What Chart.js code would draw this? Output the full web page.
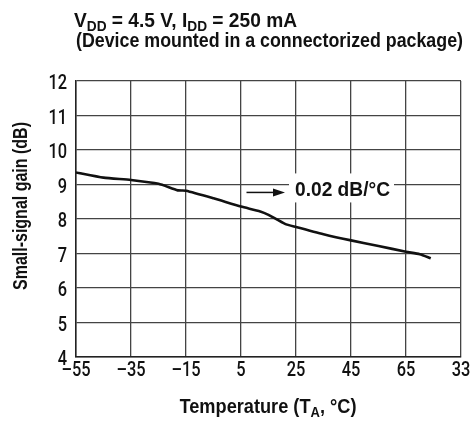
<!DOCTYPE html>
<html>
<head>
<meta charset="utf-8">
<script src="https://cdn.jsdelivr.net/npm/chart.js@4.4.0/dist/chart.umd.min.js"></script>
<style>
  body { margin: 0; background: #fff; }
  #wrap { position: relative; width: 472px; height: 423px; overflow: hidden; }
  .txt {
    position: absolute; white-space: nowrap;
    font-family: 'Liberation Sans', Arial, sans-serif;
    font-weight: bold; font-size: 21px; line-height: 20px; color: #111;
    transform-origin: 0 0;
  }
  .txt sub { font-size: 15px; vertical-align: -4px; line-height: 0; }
  #linha1 { left: 74px; top: 10px; }
  #linha2 { left: 76px; top: 30px; }
  #tituloX { left: 268px; top: 396px; }
  #tituloY { left: 20px; top: 206px; }
</style>
</head>
<body>
<div id="wrap">
  <canvas id="grafico" width="472" height="423"></canvas>
  <div id="linha1" class="txt">V<sub>DD</sub> = 4.5 V, I<sub>DD</sub> = 250 mA</div>
  <div id="linha2" class="txt">(Device mounted in a connectorized package)</div>
  <div id="tituloX" class="txt">Temperature (T<sub>A</sub>, &deg;C)</div>
  <div id="tituloY" class="txt">Small-signal gain (dB)</div>
</div>
<script>
// Dados
const temperaturas = [-55, -45, -35, -25, -18, -15, -5, 5, 12, 15, 21, 25, 35, 45, 55, 65, 70, 74];
const ganho = [9.35, 9.2, 9.13, 9.02, 8.83, 8.82, 8.6, 8.36, 8.22, 8.12, 7.86, 7.77, 7.56, 7.38, 7.22, 7.05, 6.98, 6.86];
const ticksX = [-55, -35, -15, 5, 25, 45, 65, 85];
const rotulosX = ['\u201355', '\u201335', '\u201315', '5', '25', '45', '65', '33'];
const ticksY = [4, 5, 6, 7, 8, 9, 10, 11, 12];
const anotacao = { texto: '0.02 dB/\u00b0C', setaDe: 7, setaAte: 21, textoX: 25, y: 8.77 };

const fonteTicks = "500 21px Roboto, 'Liberation Sans', sans-serif";
const fonteNota = "bold 21px 'Liberation Sans', Arial, sans-serif";

// Títulos em HTML, comprimidos na horizontal até a largura da figura
function comprimir(id, largura, extra) {
    const el = document.getElementById(id);
    const s = largura / el.getBoundingClientRect().width;
    el.style.transform = (extra[0] || '') + ' scaleX(' + s + ') ' + (extra[1] || '');
}
comprimir('linha1', 223, []);
comprimir('linha2', 387, []);
comprimir('tituloX', 177, ['', 'translateX(-50%)']);
comprimir('tituloY', 168, ['rotate(-90deg)', 'translate(-50%, -50%)']);

function texto(ctx, s, x, y, align, sx) {
    ctx.save();
    ctx.translate(x, y);
    ctx.scale(sx, 1);
    ctx.textAlign = align;
    ctx.textBaseline = 'alphabetic';
    ctx.fillText(s, 0, 0);
    ctx.restore();
}

// Rótulos dos eixos e anotação da inclinação
const pluginTextos = {
    id: 'textos',
    afterDraw(chart) {
        const ctx = chart.ctx;
        const x = chart.scales.x, y = chart.scales.y;
        const area = chart.chartArea;
        ctx.save();
        ctx.fillStyle = '#111';
        ctx.font = fonteTicks;
        ticksY.forEach(v => texto(ctx, String(v), area.left - 9, y.getPixelForValue(v) + 8, 'right', 0.78));
        ticksX.forEach((v, i) => texto(ctx, rotulosX[i], x.getPixelForValue(v), area.bottom + 19, 'center', 0.78));

        const yy = y.getPixelForValue(anotacao.y);
        const x0 = x.getPixelForValue(anotacao.setaDe);
        const x1 = x.getPixelForValue(anotacao.setaAte);
        const xt = x.getPixelForValue(anotacao.textoX);
        ctx.font = fonteNota;
        const sx = 95 / ctx.measureText(anotacao.texto).width;
        ctx.fillStyle = '#fff';
        ctx.fillRect(xt - 7, yy - 19, 105, 29);
        ctx.fillStyle = '#111';
        texto(ctx, anotacao.texto, xt - 1, yy + 4, 'left', sx);
        ctx.strokeStyle = '#111';
        ctx.lineWidth = 1.5;
        ctx.beginPath();
        ctx.moveTo(x0, yy);
        ctx.lineTo(x1 - 8, yy);
        ctx.stroke();
        ctx.beginPath();
        ctx.moveTo(x1, yy);
        ctx.lineTo(x1 - 12, yy - 4);
        ctx.lineTo(x1 - 12, yy + 4);
        ctx.closePath();
        ctx.fill();
        ctx.restore();
    }
};

new Chart(document.getElementById('grafico').getContext('2d'), {
    type: 'line',
    data: {
        datasets: [{
            data: temperaturas.map((t, i) => ({ x: t, y: ganho[i] })),
            borderColor: '#111',
            borderWidth: 2.6,
            pointRadius: 0,
            tension: 0.2,
            fill: false
        }]
    },
    options: {
        responsive: false,
        animation: false,
        layout: { padding: { top: 81, right: 11, left: 0, bottom: 0 } },
        plugins: { legend: { display: false }, tooltip: { enabled: false } },
        scales: {
            x: {
                type: 'linear',
                min: -55,
                max: 85,
                afterBuildTicks: s => { s.ticks = ticksX.map(v => ({ value: v })); },
                afterFit: s => { s.height = 66; },
                ticks: { display: false, autoSkip: false },
                grid: { color: '#444', lineWidth: 1.3, drawTicks: false },
                border: { color: '#222', width: 1.5 }
            },
            y: {
                min: 4,
                max: 12,
                afterBuildTicks: s => { s.ticks = ticksY.map(v => ({ value: v })); },
                afterFit: s => { s.width = 76; },
                ticks: { display: false },
                grid: { color: '#444', lineWidth: 1.3, drawTicks: false },
                border: { color: '#222', width: 1.5 }
            }
        }
    },
    plugins: [pluginTextos]
});
</script>
</body>
</html>
